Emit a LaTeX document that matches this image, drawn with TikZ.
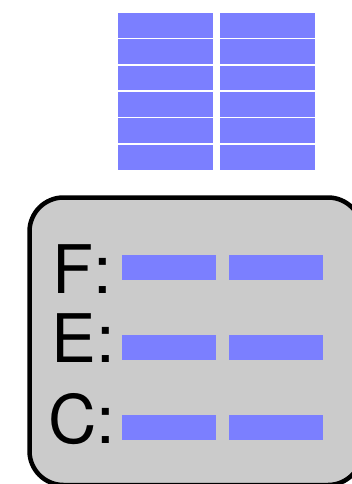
\documentclass[tikz,border=0pt]{standalone}
\usepackage{fontspec}
\setmainfont{TeX Gyre Heros}
\begin{document}
\begin{tikzpicture}[x=1pt,y=-1pt, every node/.style={inner sep=0pt, outer sep=0pt}]
  \definecolor{barBlue}{HTML}{7B7FFF}
  \definecolor{panelGray}{HTML}{CBCBCB}
  \tikzset{
    cell/.style={fill=barBlue, minimum width=94.5pt, minimum height=24.8pt},
    panelbox/.style={draw=black, fill=panelGray, line width=4.5pt, rounded corners=34pt},
    lbl/.style={font=\fontsize{67}{67}\selectfont, anchor=base west}
  }
  \useasboundingbox (0,0) rectangle (351,484);
  % stacked grid on top
  \foreach \i in {0,...,5}{
    \pgfmathsetmacro{\y}{25.4+26.35*\i}
    \node[cell] (gl\i) at (165.3,\y) {};
    \node[cell] (gr\i) at (267.5,\y) {};
  }
  % rounded panel with the three rows
  \node[panelbox, minimum width=332.5pt, minimum height=287.5pt] (panel) at (195.75,341.25) {};
  \foreach \i/\tag/\lx/\by in {0/F/52.4/293, 1/E/51.4/362.7, 2/C/48.4/443}{
    \pgfmathsetmacro{\y}{267.5+80*\i}
    \node[lbl] (t\i) at (\lx,\by) {\tag:};
    \node[cell, minimum width=94pt, minimum height=25pt] (bl\i) at (168.7,\y) {};
    \node[cell, minimum width=94pt, minimum height=25pt] (br\i) at (275.7,\y) {};
  }
\end{tikzpicture}
\end{document}
